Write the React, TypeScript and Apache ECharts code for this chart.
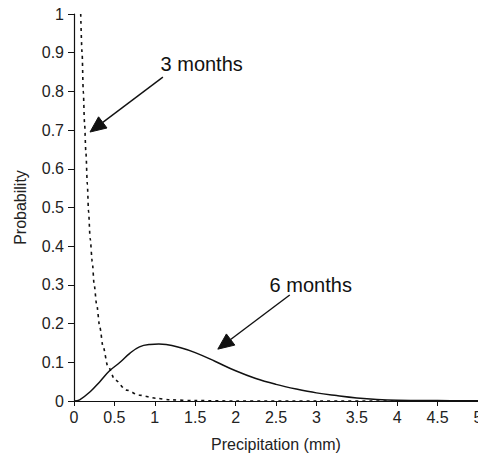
import React, { useEffect, useRef } from "react";
import * as echarts from "echarts";

// ---- Data ----
const xTicks = [0, 0.5, 1, 1.5, 2, 2.5, 3, 3.5, 4, 4.5, 5];
const yTicks = [0, 0.1, 0.2, 0.3, 0.4, 0.5, 0.6, 0.7, 0.8, 0.9, 1];

const threeMonthsX = [0.083, 0.1, 0.115, 0.13, 0.148, 0.165, 0.18, 0.2, 0.226, 0.25, 0.28, 0.32, 0.36, 0.42, 0.51, 0.65, 0.81, 1.02, 1.19, 1.5, 2, 3, 4, 5];
const threeMonthsY = [1.0, 0.9, 0.8, 0.72, 0.64, 0.56, 0.49, 0.42, 0.36, 0.3, 0.25, 0.19, 0.14, 0.089, 0.054, 0.028, 0.015, 0.007, 0.003, 0.001, 0, 0, 0, 0];

const sixMonthsX = [0, 0.07, 0.2, 0.32, 0.44, 0.57, 0.69, 0.81, 0.94, 1.05, 1.14, 1.31, 1.5, 1.75, 2.0, 2.25, 2.5, 2.75, 3.0, 3.25, 3.5, 3.75, 4.0, 4.5, 5];
const sixMonthsY = [0, 0.003, 0.024, 0.05, 0.078, 0.1, 0.123, 0.14, 0.146, 0.147, 0.146, 0.138, 0.125, 0.102, 0.078, 0.058, 0.043, 0.031, 0.021, 0.014, 0.008, 0.004, 0.002, 0.001, 0.0005];

// annotations: label, label centre, arrow tail, arrow tip (data coordinates)
const annLabels = ["3 months", "6 months"];
const annText = [[1.58, 0.87], [2.93, 0.3]];
const annTail = [[1.1, 0.837], [2.67, 0.274]];
const annTip = [[0.198, 0.695], [1.78, 0.134]];

const FONT = "'Liberation Sans', Arial, Helvetica, sans-serif";

export default function App() {
  const ref = useRef<HTMLDivElement>(null);

  useEffect(() => {
    if (!ref.current) return;
    const chart = echarts.init(ref.current, undefined, { renderer: "svg" });
    const pairs = (xs: number[], ys: number[]) => xs.map((x, i) => [x, ys[i]]);

    chart.setOption({
      animation: false,
      backgroundColor: "#ffffff",
      grid: { left: 74, top: 14, right: 0, bottom: 56, containLabel: false, outerBoundsMode: "none" },
      xAxis: {
        type: "value",
        min: xTicks[0],
        max: xTicks[xTicks.length - 1],
        interval: 0.5,
        name: "Precipitation (mm)",
        nameLocation: "middle",
        nameGap: 35,
        nameTextStyle: { color: "#222", fontSize: 16, fontFamily: FONT },
        axisLine: { show: true, onZero: false, lineStyle: { color: "#111", width: 1.2 } },
        axisTick: { show: true, inside: false, length: 5, lineStyle: { color: "#111" } },
        splitLine: { show: false },
        axisLabel: { color: "#222", fontSize: 16, fontFamily: FONT, margin: 8, formatter: (v: number) => String(v) },
      },
      yAxis: {
        type: "value",
        min: yTicks[0],
        max: yTicks[yTicks.length - 1],
        interval: 0.1,
        name: "Probability",
        nameLocation: "middle",
        nameGap: 46,
        nameTextStyle: { color: "#222", fontSize: 16, fontFamily: FONT },
        axisLine: { show: true, lineStyle: { color: "#111", width: 1.2 } },
        axisTick: { show: true, inside: false, length: 6, lineStyle: { color: "#111" } },
        splitLine: { show: false },
        axisLabel: { color: "#222", fontSize: 16, fontFamily: FONT, margin: 10, formatter: (v: number) => String(Math.round(v * 10) / 10) },
      },
      series: [
        {
          name: "3 months",
          type: "line",
          data: pairs(threeMonthsX, threeMonthsY),
          showSymbol: false,
          smooth: 0.3,
          smoothMonotone: "x",
          clip: true,
          lineStyle: { color: "#111", width: 1.6, type: [3, 4] },
        },
        {
          name: "6 months",
          type: "line",
          data: pairs(sixMonthsX, sixMonthsY),
          showSymbol: false,
          smooth: 0.4,
          clip: true,
          lineStyle: { color: "#111", width: 1.5, type: "solid" },
        },
      ],
    });

    const graphics: any[] = [];
    annLabels.forEach((label, i) => {
      const t = chart.convertToPixel({ gridIndex: 0 }, annText[i]) as number[];
      const a = chart.convertToPixel({ gridIndex: 0 }, annTail[i]) as number[];
      const b = chart.convertToPixel({ gridIndex: 0 }, annTip[i]) as number[];
      const dx = b[0] - a[0];
      const dy = b[1] - a[1];
      const len = Math.sqrt(dx * dx + dy * dy);
      const ux = dx / len;
      const uy = dy / len;
      const headLen = 16;
      const headHalf = 7;
      const bx = b[0] - ux * headLen;
      const by = b[1] - uy * headLen;
      graphics.push({
        type: "text",
        x: t[0],
        y: t[1],
        style: { text: label, fill: "#111", font: `20px ${FONT}`, textAlign: "center", textVerticalAlign: "middle" },
      });
      graphics.push({
        type: "line",
        shape: { x1: a[0], y1: a[1], x2: bx, y2: by },
        style: { stroke: "#111", lineWidth: 1.4 },
      });
      graphics.push({
        type: "polygon",
        shape: {
          points: [
            [b[0], b[1]],
            [bx - uy * headHalf, by + ux * headHalf],
            [bx + uy * headHalf, by - ux * headHalf],
          ],
        },
        style: { fill: "#111", stroke: "#111" },
      });
    });
    chart.setOption({ graphic: graphics });

    return () => chart.dispose();
  }, []);

  return (
    <div
      ref={ref}
      style={{ position: "fixed", left: 0, top: 0, width: 478, height: 457, background: "#fff" }}
    />
  );
}
